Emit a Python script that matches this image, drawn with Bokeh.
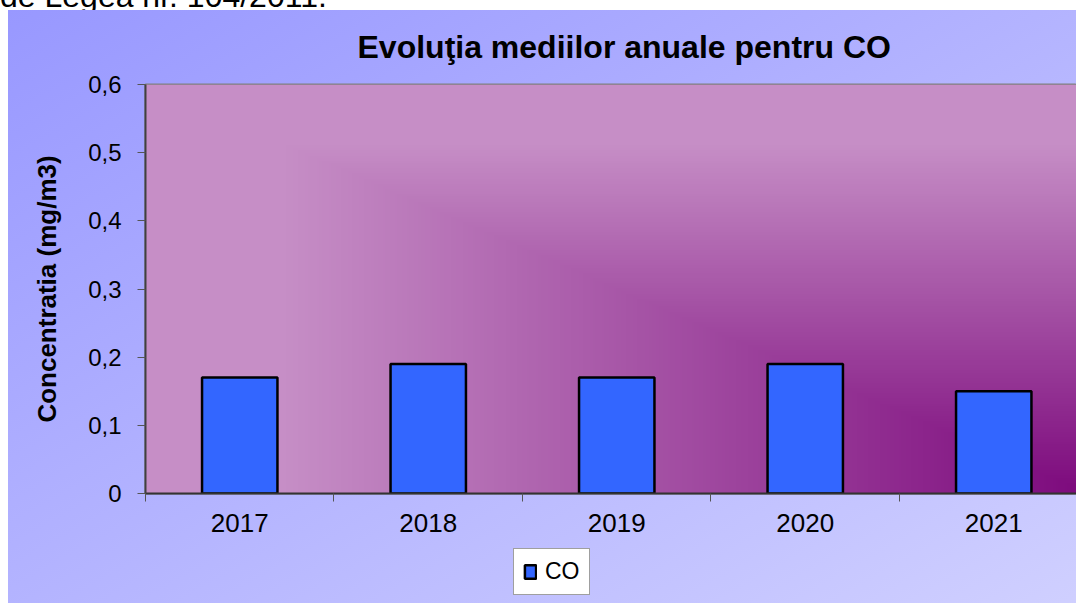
import numpy as np
from bokeh.plotting import figure
from bokeh.layouts import column
from bokeh.models import (Range1d, FixedTicker, CustomJSTickFormatter,
                          Legend, LegendItem, Div)
from bokeh.embed import file_html
from bokeh.resources import INLINE

# ---- data ----
years = ["2017", "2018", "2019", "2020", "2021"]
co_values = [0.17, 0.19, 0.17, 0.19, 0.15]
y_ticks = [0, 0.1, 0.2, 0.3, 0.4, 0.5, 0.6]
title_text = "Evoluţia mediilor anuale pentru CO"
y_label = "Concentratia (mg/m3)"
series_name = "CO"
top_text = "de Legea nr. 104/2011."

n = len(years)
x_pos = [i + 0.5 for i in range(n)]
x_bounds = list(range(n + 1))

FONT = "Liberation Sans"
BAR_FILL = "#3366FF"

# ---- cut-off line of document text above the chart ----
head = Div(width=1076, height=10, margin=0,
           styles={"overflow": "hidden"},
           text=f'<div style="position:relative; top:-20px; left:0px; '
                f'font-family:\'{FONT}\'; font-size:32px; line-height:32px; '
                f'white-space:nowrap; color:black">{top_text}</div>')

p = figure(width=1076, height=538, output_backend="svg", toolbar_location=None,
           x_range=Range1d(0, 4.939), y_range=Range1d(0, 0.6),
           min_border_left=145, min_border_right=0, min_border_top=74,
           min_border_bottom=55, margin=0,
           border_fill_alpha=0, background_fill_alpha=0,
           outline_line_color="#808080", outline_line_width=2)
p.xgrid.visible = False
p.ygrid.visible = False

# ---- plot-area gradient (decorative background, from bottom-right corner) ----
rows, cols = 160, 400
yy = (np.arange(rows) + 0.5) / rows
xx = (np.arange(cols) + 0.5) / cols
t = np.maximum(1.0 - xx[None, :], yy[:, None])
f = np.clip(t / 0.85, 0, 1)
dark = np.array([125, 10, 125], dtype=float)
light = np.array([198, 142, 198], dtype=float)
img = np.empty((rows, cols), dtype=np.uint32)
view = img.view(dtype=np.uint8).reshape((rows, cols, 4))
for k in range(3):
    view[:, :, k] = (dark[k] + (light[k] - dark[k]) * f).astype(np.uint8)
view[:, :, 3] = 255
p.image_rgba(image=[img], x=0, y=0, dw=5, dh=0.6, level="image")

# ---- bars ----
bar_style = dict(width=0.4, fill_color=BAR_FILL, line_color="black", line_width=2.5)
bars = p.vbar(x=x_pos, top=co_values, **bar_style)

# ---- axes ----
p.xaxis.ticker = FixedTicker(ticks=x_pos, minor_ticks=x_bounds)
p.xaxis.major_label_overrides = {x: y for x, y in zip(x_pos, years)}
p.xaxis.major_tick_line_color = None
p.xaxis.major_tick_out = 8
p.xaxis.major_tick_in = 0
p.xaxis.minor_tick_out = 8
p.xaxis.minor_tick_in = 0
p.xaxis.minor_tick_line_color = "#555555"
p.xaxis.major_label_standoff = 12
p.xaxis.major_label_text_font = FONT
p.xaxis.major_label_text_font_size = "26px"
p.xaxis.major_label_text_color = "black"
p.xaxis.axis_line_color = "#333333"
p.xaxis.axis_line_width = 2

p.yaxis.ticker = FixedTicker(ticks=y_ticks, minor_ticks=[])
p.yaxis.formatter = CustomJSTickFormatter(
    code="return tick == 0 ? '0' : tick.toFixed(1).replace('.', ',');")
p.yaxis.major_tick_out = 8
p.yaxis.major_tick_in = 0
p.yaxis.major_tick_line_color = "#555555"
p.yaxis.major_label_standoff = 16
p.yaxis.major_label_text_font = FONT
p.yaxis.major_label_text_font_size = "24px"
p.yaxis.major_label_text_color = "black"
p.yaxis.axis_line_color = "#404040"
p.yaxis.axis_line_width = 2
p.yaxis.axis_label = y_label
p.yaxis.axis_label_text_font = FONT
p.yaxis.axis_label_text_font_style = "bold"
p.yaxis.axis_label_text_font_size = "26px"
p.yaxis.axis_label_text_color = "black"
p.yaxis.axis_label_standoff = 23

# ---- title ----
p.title.text = title_text
p.title.align = "left"
p.title.offset = 212
p.title.vertical_align = "top"
p.title.standoff = 35
p.title.text_font = FONT
p.title.text_font_style = "bold"
p.title.text_font_size = "32px"
p.title.text_color = "black"

# ---- legend strip under the chart (frame aligned with the chart's frame) ----
q = figure(width=1076, height=55, output_backend="svg", toolbar_location=None,
           title=None, x_axis_type=None, y_axis_type=None,
           x_range=Range1d(10, 11), y_range=Range1d(10, 11),
           min_border=0, margin=0,
           border_fill_alpha=0, background_fill_alpha=0, outline_line_color=None)
q.xgrid.visible = False
q.ygrid.visible = False
# same series, hidden in this strip: only supplies the legend swatch
proxy = q.vbar(x=x_pos, top=co_values, visible=False, **bar_style)
legend = Legend(items=[LegendItem(label=series_name, renderers=[proxy])],
                location=(368, 8), orientation="vertical",
                background_fill_color="white", background_fill_alpha=1,
                border_line_color="#404040", border_line_width=1,
                inactive_fill_alpha=0,
                label_text_font=FONT, label_text_font_size="23px",
                label_text_color="black",
                glyph_width=14, glyph_height=17, label_standoff=8,
                padding=9, margin=0)
q.add_layout(legend)

root = column(head, p, q, spacing=0, margin=0,
              styles={"background": "linear-gradient(to bottom right, #9898FF, #D0D0FF) "
                                    "8px 10px / 100% 100% no-repeat, #ffffff"})

open("out.html", "w").write(file_html(root, INLINE))
